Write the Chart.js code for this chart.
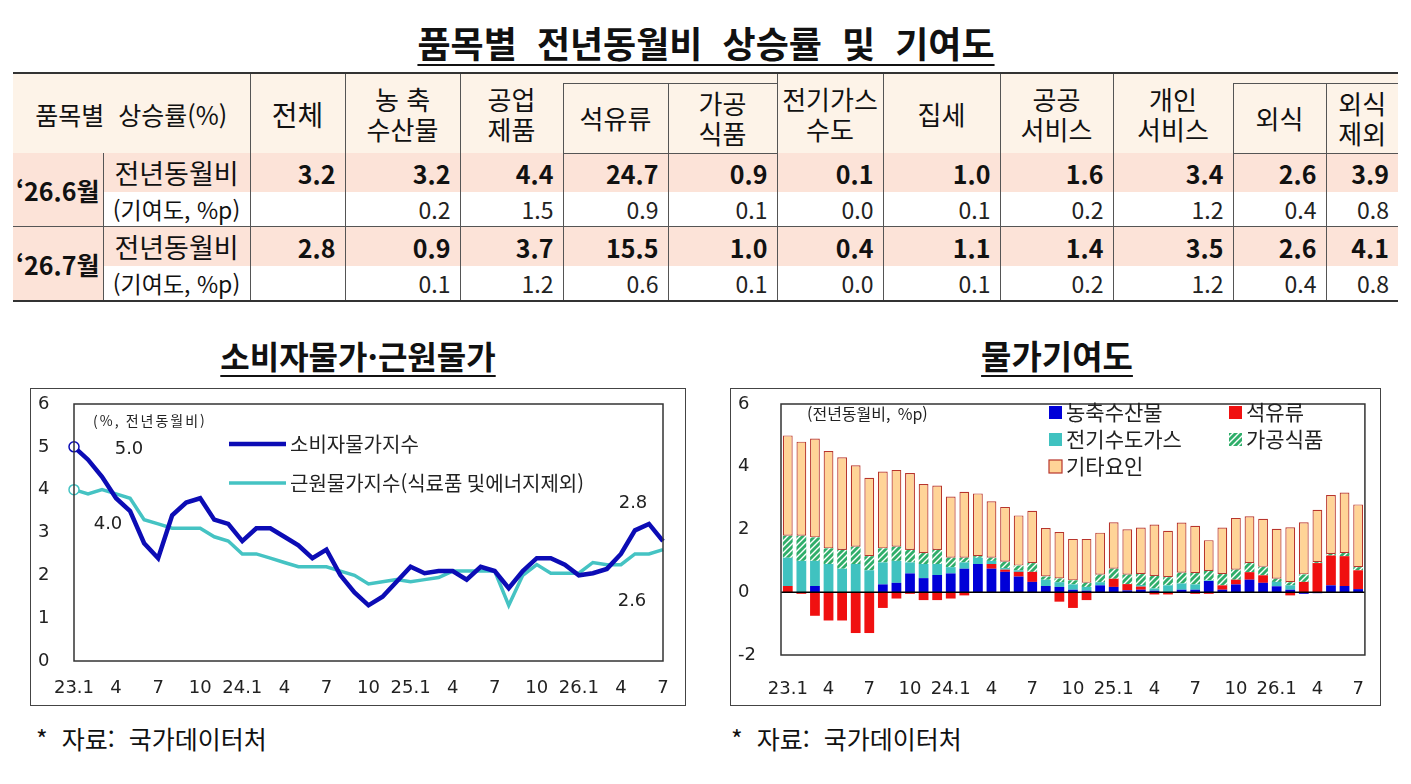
<!DOCTYPE html>
<html lang="ko">
<head>
<meta charset="utf-8">
<title>품목별 전년동월비 상승률 및 기여도</title>
<script src="https://cdn.jsdelivr.net/npm/chart.js@4.4.1/dist/chart.umd.min.js"></script>
<style>
  body { margin: 0; width: 1411px; height: 784px; background: #fff; position: relative; overflow: hidden;
         font-family: "Noto Sans CJK KR", "Noto Sans", sans-serif; color: #111; }
  .title { position: absolute; font-weight: 700; text-decoration: underline; text-underline-offset: 6px;
           text-decoration-thickness: 2px; white-space: nowrap; transform: translateX(-50%); }
  #mainTitle { left: 706px; top: 16px; font-size: 36px; word-spacing: 10px; }
  #leftTitle { left: 358px; top: 332px; font-size: 32px; }
  #rightTitle { left: 1057px; top: 331px; font-size: 33px; }

  table { position: absolute; left: 13px; top: 72px; width: 1385px; border-collapse: collapse; table-layout: fixed;
          border-top: 2px solid #333; border-bottom: 2px solid #333; }
  td { border-left: 1px solid #555; padding: 0; text-align: center; vertical-align: middle; }
  td.first { border-left: none; }
  .hA td, .hB td { background: #fdf3e8; font-size: 26px; line-height: 30px; }
  .hA { height: 10px; }
  .hB { height: 70px; }
  td.gap { border-left: none; border-bottom: 1px solid #555; }
  .hB td { border-bottom: 1px solid #555; }
  .r1 { height: 39px; background: #fce3d8; }
  .r2 { height: 34px; background: #fff; }
  .r3 { border-top: 1px solid #555; }
  td.mon { background: #fce3d8; font-weight: 700; font-size: 25px; border-left: none; }
  td.lab { font-size: 27px; }
  td.lab2 { font-size: 23px; }
  td.n { text-align: right; padding-right: 9px; font-family: "Liberation Sans Narrow", "Noto Sans CJK KR", sans-serif; }
  .r1 td.n { font-weight: 700; font-size: 25px; }
  .r2 td.n { font-size: 23px; color: #222; }

  .box { position: absolute; border: 1px solid #444; box-sizing: border-box; }
  #leftBox { left: 30px; top: 388px; width: 656px; height: 318px; }
  #rightBox { left: 730px; top: 388px; width: 651px; height: 318px; }
  .note { position: absolute; font-size: 25px; top: 720px; white-space: pre; }
</style>
</head>
<body>

<div class="title" id="mainTitle">품목별 전년동월비 상승률 및 기여도</div>

<table>
  <colgroup>
    <col style="width:90px"><col style="width:147px"><col style="width:95px"><col style="width:115px">
    <col style="width:103px"><col style="width:105px"><col style="width:109px"><col style="width:106px">
    <col style="width:117px"><col style="width:113px"><col style="width:120px"><col style="width:93px"><col style="width:72px">
  </colgroup>
  <tr class="hA">
    <td rowspan="2" colspan="2" class="first" style="font-size:25px">품목별&nbsp;&nbsp;상승률(%)</td>
    <td rowspan="2" style="font-size:28px">전체</td>
    <td rowspan="2">농 축<br>수산물</td>
    <td rowspan="2">공업<br>제품</td>
    <td colspan="2" class="gap"></td>
    <td rowspan="2">전기가스<br>수도</td>
    <td rowspan="2">집세</td>
    <td rowspan="2">공공<br>서비스</td>
    <td rowspan="2">개인<br>서비스</td>
    <td colspan="2" class="gap"></td>
  </tr>
  <tr class="hB">
    <td>석유류</td><td>가공<br>식품</td><td>외식</td><td>외식<br>제외</td>
  </tr>
  <tr class="r1">
    <td rowspan="2" class="mon">‘26.6월</td><td class="lab">전년동월비</td>
    <td class="n">3.2</td><td class="n">3.2</td><td class="n">4.4</td><td class="n">24.7</td><td class="n">0.9</td>
    <td class="n">0.1</td><td class="n">1.0</td><td class="n">1.6</td><td class="n">3.4</td><td class="n">2.6</td><td class="n">3.9</td>
  </tr>
  <tr class="r2">
    <td class="lab2">(기여도, %p)</td>
    <td class="n"></td><td class="n">0.2</td><td class="n">1.5</td><td class="n">0.9</td><td class="n">0.1</td>
    <td class="n">0.0</td><td class="n">0.1</td><td class="n">0.2</td><td class="n">1.2</td><td class="n">0.4</td><td class="n">0.8</td>
  </tr>
  <tr class="r1 r3">
    <td rowspan="2" class="mon">‘26.7월</td><td class="lab">전년동월비</td>
    <td class="n">2.8</td><td class="n">0.9</td><td class="n">3.7</td><td class="n">15.5</td><td class="n">1.0</td>
    <td class="n">0.4</td><td class="n">1.1</td><td class="n">1.4</td><td class="n">3.5</td><td class="n">2.6</td><td class="n">4.1</td>
  </tr>
  <tr class="r2">
    <td class="lab2">(기여도, %p)</td>
    <td class="n"></td><td class="n">0.1</td><td class="n">1.2</td><td class="n">0.6</td><td class="n">0.1</td>
    <td class="n">0.0</td><td class="n">0.1</td><td class="n">0.2</td><td class="n">1.2</td><td class="n">0.4</td><td class="n">0.8</td>
  </tr>
</table>

<div class="title" id="leftTitle">소비자물가·근원물가</div>
<div class="title" id="rightTitle">물가기여도</div>

<div class="box" id="leftBox"><canvas id="cpiChart"></canvas></div>
<div class="box" id="rightBox"><canvas id="contribChart"></canvas></div>

<div class="note" style="left:36px">*  자료:  국가데이터처</div>
<div class="note" style="left:731px">*  자료:  국가데이터처</div>

<script>
// --- Data ---
const months = [
  '23.1','23.2','23.3','23.4','23.5','23.6','23.7','23.8','23.9','23.10','23.11','23.12',
  '24.1','24.2','24.3','24.4','24.5','24.6','24.7','24.8','24.9','24.10','24.11','24.12',
  '25.1','25.2','25.3','25.4','25.5','25.6','25.7','25.8','25.9','25.10','25.11','25.12',
  '26.1','26.2','26.3','26.4','26.5','26.6','26.7'
];
const tickLabels = ['23.1','4','7','10','24.1','4','7','10','25.1','4','7','10','26.1','4','7'];

// 소비자물가 / 근원물가 (%, 전년동월비)
const cpi = [
  5.0, 4.7, 4.3, 3.8, 3.5, 2.75, 2.4, 3.4, 3.7, 3.8, 3.3, 3.2,
  2.8, 3.1, 3.1, 2.9, 2.7, 2.4, 2.6, 2.0, 1.6, 1.3, 1.5, 1.85,
  2.2, 2.05, 2.1, 2.1, 1.9, 2.2, 2.1, 1.7, 2.1, 2.4, 2.4, 2.25,
  2.0, 2.05, 2.15, 2.5, 3.05, 3.2, 2.8
];
const core = [
  4.0, 3.9, 4.0, 3.9, 3.8, 3.3, 3.2, 3.1, 3.1, 3.1, 2.9, 2.8,
  2.5, 2.5, 2.4, 2.3, 2.2, 2.2, 2.2, 2.1, 2.0, 1.8, 1.85, 1.9,
  1.85, 1.9, 1.95, 2.1, 2.1, 2.1, 2.1, 1.3, 2.0, 2.25, 2.05, 2.05,
  2.05, 2.3, 2.25, 2.25, 2.5, 2.5, 2.6
];

// 물가기여도 (%p)
const agri = [
  0.0, 0.0, 0.2, 0.0, 0.0, 0.0, 0.0, 0.25, 0.3, 0.6, 0.45, 0.55,
  0.6, 0.75, 0.9, 0.75, 0.65, 0.5, 0.33, 0.2, 0.17, 0.08, 0.05, 0.22,
  0.17, 0.06, 0.08, 0.05, 0.0, 0.08, 0.08, 0.36, 0.08, 0.25, 0.4, 0.3,
  0.19, 0.08, -0.05, -0.03, 0.22, 0.2, 0.1
];
const oil = [
  0.2, -0.05, -0.75, -0.9, -0.9, -1.3, -1.3, -0.5, -0.2, -0.05, -0.25, -0.25,
  -0.2, -0.1, 0.0, 0.15, 0.07, 0.15, 0.32, 0.0, -0.3, -0.5, -0.25, 0.0,
  0.26, 0.2, 0.1, -0.07, -0.07, 0.0, -0.05, -0.05, 0.14, 0.15, 0.24, 0.24,
  0.0, -0.1, 0.33, 0.93, 0.95, 0.95, 0.6
];
const utility = [
  0.9, 1.0, 0.8, 0.9, 0.75, 0.9, 0.7, 0.7, 0.7, 0.35, 0.45, 0.35,
  0.2, 0.2, 0.2, 0.1, 0.05, 0.05, 0.0, 0.2, 0.15, 0.17, 0.12, 0.1,
  0.0, 0.0, 0.05, 0.07, 0.22, 0.2, 0.17, 0.02, 0.0, 0.0, 0.0, 0.0,
  0.14, 0.14, 0.0, 0.0, 0.0, 0.0, 0.0
];
const processed = [
  0.7, 0.8, 0.75, 0.5, 0.6, 0.55, 0.45, 0.45, 0.45, 0.4, 0.35, 0.45,
  0.3, 0.15, 0.05, 0.1, 0.2, 0.15, 0.28, 0.1, 0.12, 0.13, 0.13, 0.24,
  0.32, 0.3, 0.35, 0.4, 0.26, 0.34, 0.36, 0.3, 0.36, 0.32, 0.29, 0.27,
  0.1, 0.1, 0.24, 0.03, 0.05, 0.1, 0.1
];
const others = [
  3.2, 3.0, 3.15, 3.1, 2.95, 2.6, 2.5, 2.45, 2.45, 2.45, 2.2, 2.05,
  1.95, 2.1, 2.0, 1.8, 1.75, 1.6, 1.67, 1.55, 1.48, 1.32, 1.4, 1.34,
  1.48, 1.45, 1.48, 1.64, 1.48, 1.6, 1.51, 0.98, 1.48, 1.65, 1.49, 1.53,
  1.59, 1.75, 1.66, 1.67, 1.88, 1.93, 2.0
];

Chart.defaults.font.family = "'DejaVu Sans', 'Noto Sans CJK KR', sans-serif";
Chart.defaults.color = '#222';
const KR = "'Noto Sans CJK KR', sans-serif";

const tickCb = (val, i) => (i % 3 === 0 ? tickLabels[i / 3] : '');

// frame around the plot area
const framePlugin = {
  id: 'frame',
  afterDraw(chart) {
    const { ctx, chartArea: a } = chart;
    ctx.save();
    ctx.strokeStyle = '#333';
    ctx.lineWidth = 1.5;
    ctx.strokeRect(a.left, a.top, a.right - a.left, a.bottom - a.top);
    ctx.restore();
  }
};

// --- 소비자물가·근원물가 ---
const cpiNotes = {
  id: 'cpiNotes',
  afterDraw(chart) {
    const { ctx } = chart;
    ctx.save();
    // legend
    chart.data.datasets.forEach((ds, i) => {
      const y = 55 + i * 39;
      ctx.strokeStyle = ds.borderColor;
      ctx.lineWidth = ds.borderWidth;
      ctx.beginPath(); ctx.moveTo(198, y); ctx.lineTo(255, y); ctx.stroke();
      ctx.fillStyle = '#222';
      ctx.font = '20px ' + KR;
      ctx.textBaseline = 'middle';
      ctx.fillText(ds.label, 259, y);
    });
    ctx.font = '14px ' + KR;
    ctx.letterSpacing = '2px';
    ctx.fillText('(%, 전년동월비)', 62, 32);
    ctx.letterSpacing = '0px';
    ctx.font = '18px DejaVu Sans';
    ctx.textAlign = 'center';
    ctx.fillText('5.0', 98, 60);
    ctx.fillText('4.0', 77, 135);
    ctx.fillText('2.8', 602, 114);
    ctx.fillText('2.6', 601, 212);
    ctx.restore();
  }
};

new Chart(document.getElementById('cpiChart'), {
  type: 'line',
  data: {
    labels: months,
    datasets: [
      { label: '소비자물가지수', data: cpi, borderColor: '#0c0cb5', borderWidth: 4.5,
        pointRadius: c => (c.dataIndex === 0 ? 5 : 0), pointBackgroundColor: '#fff',
        pointBorderColor: '#0c0cb5', pointBorderWidth: 1.5, tension: 0 },
      { label: '근원물가지수(식료품 및에너지제외)', data: core, borderColor: '#45c3c3', borderWidth: 3.5,
        pointRadius: c => (c.dataIndex === 0 ? 5 : 0), pointBackgroundColor: '#fff',
        pointBorderColor: '#45c3c3', pointBorderWidth: 1.5, tension: 0 }
    ]
  },
  options: {
    responsive: true,
    maintainAspectRatio: false,
    animation: false,
    layout: { padding: { top: 15, right: 22, left: 7, bottom: 0 } },
    plugins: { legend: { display: false }, tooltip: { enabled: false } },
    scales: {
      x: {
        offset: false,
        grid: { display: false },
        border: { display: false },
        ticks: { autoSkip: false, maxRotation: 0, padding: 9, font: { size: 18 }, callback: tickCb },
        afterFit: s => { s.height = 44; }
      },
      y: {
        min: 0, max: 6,
        grid: { display: false },
        border: { display: false },
        ticks: { stepSize: 1, padding: 0, crossAlign: 'far', font: { size: 18 } },
        afterFit: s => { s.width = 36; }
      }
    }
  },
  plugins: [framePlugin, cpiNotes]
});

// --- 물가기여도 ---
function hatch() {
  const c = document.createElement('canvas');
  c.width = c.height = 6;
  const g = c.getContext('2d');
  g.fillStyle = '#2fae6a';
  g.fillRect(0, 0, 6, 6);
  g.strokeStyle = '#fff';
  g.lineWidth = 1.4;
  g.beginPath();
  g.moveTo(0, 6); g.lineTo(6, 0);
  g.moveTo(-3, 3); g.lineTo(3, -3);
  g.moveTo(3, 9); g.lineTo(9, 3);
  g.stroke();
  return g.createPattern(c, 'repeat');
}

const contribNotes = {
  id: 'contribNotes',
  afterDatasetsDraw(chart) {
    const { ctx, chartArea: a, scales } = chart;
    const y0 = scales.y.getPixelForValue(0);
    ctx.save();
    ctx.strokeStyle = '#000';
    ctx.lineWidth = 1.5;
    ctx.beginPath(); ctx.moveTo(a.left, y0); ctx.lineTo(a.right, y0); ctx.stroke();
    ctx.restore();
  },
  afterDraw(chart) {
    const { ctx } = chart;
    const ds = chart.data.datasets;
    // legend order: 농축수산물, 석유류 / 전기수도가스, 가공식품 / 기타요인
    const slots = [[0, 318, 23], [1, 498, 23], [2, 318, 50], [3, 498, 50], [4, 318, 77]];
    ctx.save();
    ctx.font = '21px ' + KR;
    ctx.textBaseline = 'middle';
    slots.forEach(([i, x, y]) => {
      ctx.fillStyle = ds[i].backgroundColor;
      ctx.fillRect(x, y - 6, 13, 13);
      if (ds[i].borderWidth) {
        ctx.strokeStyle = ds[i].borderColor;
        ctx.lineWidth = 1.2;
        ctx.strokeRect(x, y - 6, 13, 13);
      }
      ctx.fillStyle = '#222';
      ctx.fillText(ds[i].label, x + 17, y);
    });
    ctx.font = '16px ' + KR;
    ctx.fillText('(전년동월비,  %p)', 76, 25);
    ctx.restore();
  }
};

new Chart(document.getElementById('contribChart'), {
  type: 'bar',
  data: {
    labels: months,
    datasets: [
      { label: '농축수산물', data: agri, backgroundColor: '#0000d8', borderWidth: 0 },
      { label: '석유류', data: oil, backgroundColor: '#f01010', borderWidth: 0 },
      { label: '전기수도가스', data: utility, backgroundColor: '#40c2c0', borderWidth: 0 },
      { label: '가공식품', data: processed, backgroundColor: hatch(), borderWidth: 0 },
      { label: '기타요인', data: others, backgroundColor: '#ffd497', borderColor: '#b8352c',
        borderWidth: 1.2, borderSkipped: false }
    ]
  },
  options: {
    responsive: true,
    maintainAspectRatio: false,
    animation: false,
    layout: { padding: { top: 15, right: 13, left: 7, bottom: 0 } },
    plugins: { legend: { display: false }, tooltip: { enabled: false } },
    datasets: { bar: { barPercentage: 0.72, categoryPercentage: 1 } },
    scales: {
      x: {
        stacked: true,
        grid: { display: false },
        border: { display: false },
        ticks: { autoSkip: false, maxRotation: 0, padding: 16, font: { size: 18 }, callback: tickCb },
        afterFit: s => { s.height = 50; }
      },
      y: {
        stacked: true,
        min: -2, max: 6,
        grid: { display: false },
        border: { display: false },
        ticks: { stepSize: 2, padding: 0, crossAlign: 'far', font: { size: 18 } },
        afterFit: s => { s.width = 43; }
      }
    }
  },
  plugins: [framePlugin, contribNotes]
});
</script>
</body>
</html>
